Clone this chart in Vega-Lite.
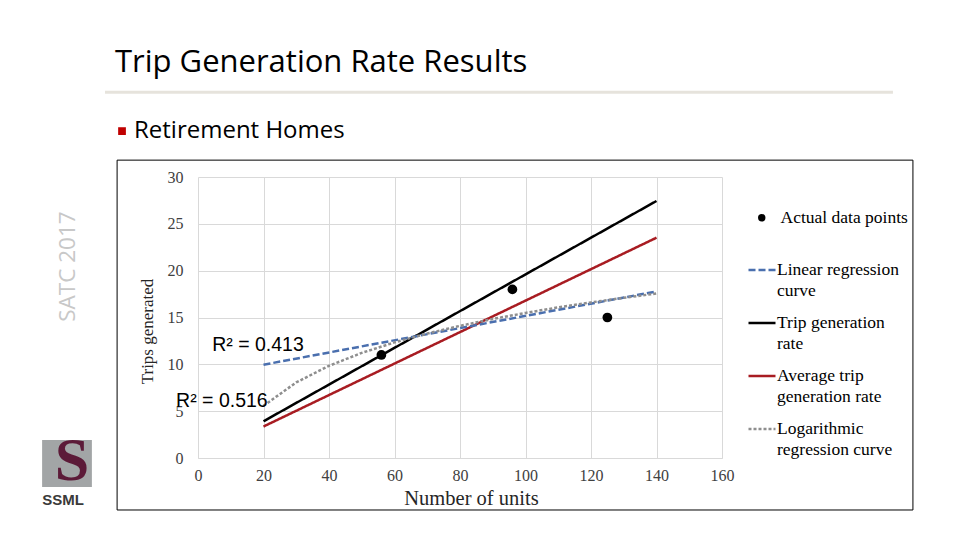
{
  "$schema": "https://vega.github.io/schema/vega-lite/v6.json",
  "width": 524,
  "height": 281,
  "autosize": {"type": "none"},
  "padding": {"left": 198, "top": 177, "right": 238, "bottom": 82},
  "background": "white",
  "config": {"view": {"stroke": null}},
  "title": {
    "text": "Trip Generation Rate Results",
    "anchor": "start",
    "frame": "group",
    "orient": "top",
    "offset": 0,
    "dx": -83,
    "dy": -12,
    "font": "Open Sans",
    "fontSize": 31,
    "fontWeight": "normal",
    "color": "#000000"
  },
  "datasets": {
    "points": [
      {"units": 56, "trips": 11},
      {"units": 96, "trips": 18},
      {"units": 125, "trips": 15}
    ],
    "lines": [
      {"series": "Trip generation rate", "units": 20, "trips": 3.92},
      {"series": "Trip generation rate", "units": 140, "trips": 27.44},
      {"series": "Average trip generation rate", "units": 20, "trips": 3.36},
      {"series": "Average trip generation rate", "units": 140, "trips": 23.52},
      {"series": "Linear regression curve", "units": 20, "trips": 9.96},
      {"series": "Linear regression curve", "units": 140, "trips": 17.78},
      {"series": "Logarithmic regression curve", "units": 20, "trips": 5.57},
      {"series": "Logarithmic regression curve", "units": 30, "trips": 8.07},
      {"series": "Logarithmic regression curve", "units": 40, "trips": 9.84},
      {"series": "Logarithmic regression curve", "units": 50, "trips": 11.22},
      {"series": "Logarithmic regression curve", "units": 60, "trips": 12.34},
      {"series": "Logarithmic regression curve", "units": 70, "trips": 13.29},
      {"series": "Logarithmic regression curve", "units": 80, "trips": 14.11},
      {"series": "Logarithmic regression curve", "units": 90, "trips": 14.84},
      {"series": "Logarithmic regression curve", "units": 100, "trips": 15.49},
      {"series": "Logarithmic regression curve", "units": 110, "trips": 16.08},
      {"series": "Logarithmic regression curve", "units": 120, "trips": 16.61},
      {"series": "Logarithmic regression curve", "units": 130, "trips": 17.10},
      {"series": "Logarithmic regression curve", "units": 140, "trips": 17.56}
    ]
  },
  "layer": [
    {
      "data": {"values": [{}]},
      "mark": {"type": "rect", "fill": null, "filled": false, "stroke": "#000000", "strokeWidth": 1, "clip": false},
      "encoding": {
        "x": {"datum": -24.7, "type": "quantitative", "axis": null},
        "x2": {"datum": 218.3},
        "y": {"datum": 31.8, "type": "quantitative", "axis": null},
        "y2": {"datum": -5.55}
      }
    },
    {
      "data": {"values": [{}]},
      "mark": {"type": "rule", "stroke": "#e6e3dc", "strokeWidth": 3, "clip": false},
      "encoding": {
        "x": {"datum": -28.4, "type": "quantitative", "axis": null},
        "x2": {"datum": 212.2},
        "y": {"datum": 39.06, "type": "quantitative", "axis": null}
      }
    },
    {
      "data": {"name": "lines"},
      "mark": {"type": "line", "strokeWidth": 2.5, "clip": false},
      "encoding": {
        "x": {
          "field": "units", "type": "quantitative",
          "scale": {"domain": [0, 160], "nice": false, "zero": false},
          "axis": {
            "values": [0, 20, 40, 60, 80, 100, 120, 140, 160],
            "grid": true, "gridColor": "#d9d9d9", "gridWidth": 1,
            "domain": true, "domainColor": "#d9d9d9", "domainWidth": 1,
            "ticks": false, "labelFlush": false,
            "labelFont": "Liberation Serif", "labelFontSize": 16, "labelColor": "#404040", "labelPadding": 9,
            "title": "Number of units", "titleFont": "Liberation Serif", "titleFontSize": 20.5,
            "titleFontWeight": "normal", "titleColor": "#262626", "titleX": 273, "titlePadding": 5
          }
        },
        "y": {
          "field": "trips", "type": "quantitative",
          "scale": {"domain": [0, 30], "nice": false, "zero": true},
          "axis": {
            "orient": "left",
            "values": [0, 5, 10, 15, 20, 25, 30],
            "grid": true, "gridColor": "#d9d9d9", "gridWidth": 1,
            "domain": false, "ticks": false, "labelFlush": false,
            "labelFont": "Liberation Serif", "labelFontSize": 16, "labelColor": "#404040", "labelPadding": 15,
            "title": "Trips generated", "titleFont": "Liberation Serif", "titleFontSize": 17,
            "titleFontWeight": "normal", "titleColor": "#262626",
            "titleAngle": -90, "titleAlign": "center", "titleBaseline": "middle",
            "titleX": -51, "titleY": 154
          }
        },
        "color": {
          "field": "series", "type": "nominal",
          "scale": {
            "domain": ["Linear regression curve", "Trip generation rate", "Average trip generation rate", "Logarithmic regression curve"],
            "range": ["#4a6fae", "#000000", "#a81c22", "#8e8e8e"]
          },
          "legend": {
            "orient": "none", "legendX": 549, "legendY": 78, "title": null,
            "symbolType": "stroke", "symbolSize": 729, "symbolStrokeWidth": 2.5,
            "labelFont": "Liberation Serif", "labelFontSize": 17.5, "labelColor": "#000000",
            "labelOffset": 0, "labelBaseline": "top", "labelLimit": 300, "rowPadding": 8,
            "labelExpr": "datum.label == 'Linear regression curve' ? ['Linear regression', 'curve'] : datum.label == 'Trip generation rate' ? ['Trip generation', 'rate'] : datum.label == 'Average trip generation rate' ? ['Average trip', 'generation rate'] : ['Logarithmic', 'regression curve']",
            "encode": {"labels": {"update": {"dy": {"value": -9}, "lineHeight": {"value": 21}}}}
          }
        },
        "strokeDash": {
          "field": "series", "type": "nominal",
          "scale": {
            "domain": ["Linear regression curve", "Trip generation rate", "Average trip generation rate", "Logarithmic regression curve"],
            "range": [[7, 3], [1, 0], [1, 0], [3, 2]]
          },
          "legend": {
            "orient": "none", "legendX": 549, "legendY": 78, "title": null,
            "symbolType": "stroke", "symbolSize": 729, "symbolStrokeWidth": 2.5,
            "labelFont": "Liberation Serif", "labelFontSize": 17.5, "labelColor": "#000000",
            "labelOffset": 0, "labelBaseline": "top", "labelLimit": 300, "rowPadding": 8,
            "labelExpr": "datum.label == 'Linear regression curve' ? ['Linear regression', 'curve'] : datum.label == 'Trip generation rate' ? ['Trip generation', 'rate'] : datum.label == 'Average trip generation rate' ? ['Average trip', 'generation rate'] : ['Logarithmic', 'regression curve']",
            "encode": {"labels": {"update": {"dy": {"value": -9}, "lineHeight": {"value": 21}}}}
          }
        }
      }
    },
    {
      "data": {"name": "points"},
      "mark": {"type": "point", "filled": true, "size": 95, "color": "#000000", "opacity": 1, "clip": false},
      "encoding": {
        "x": {"field": "units", "type": "quantitative", "axis": null},
        "y": {
          "field": "trips", "type": "quantitative",
          "axis": {
            "orient": "left", "labels": false, "ticks": false, "domain": false, "grid": false,
            "title": "SATC 2017", "titleFont": "Open Sans", "titleFontSize": 22.5, "titleFontWeight": "normal",
            "titleColor": "#c8c8c8", "titleAngle": -90, "titleAlign": "center", "titleBaseline": "middle",
            "titleX": -131, "titleY": 89
          }
        },
        "shape": {
          "datum": "Actual data points",
          "scale": {"range": ["circle"]},
          "legend": {
            "orient": "none", "legendX": 555, "legendY": 32, "title": null,
            "symbolFillColor": "#000000", "symbolStrokeColor": "#000000", "symbolSize": 55,
            "labelFont": "Liberation Serif", "labelFontSize": 17.5, "labelColor": "#000000", "labelOffset": 10
          }
        }
      }
    },
    {
      "data": {"values": [{}]},
      "mark": {"type": "text", "font": "Liberation Sans", "fontSize": 19.5, "color": "#000000", "align": "center", "baseline": "middle", "clip": false},
      "encoding": {
        "x": {"datum": 18.3, "type": "quantitative", "axis": null},
        "y": {"datum": 12.06, "type": "quantitative", "axis": null},
        "text": {"value": "R² = 0.413"}
      }
    },
    {
      "data": {"values": [{}]},
      "mark": {"type": "text", "font": "Liberation Sans", "fontSize": 19.5, "color": "#000000", "align": "center", "baseline": "middle", "clip": false},
      "encoding": {
        "x": {"datum": 7.3, "type": "quantitative", "axis": null},
        "y": {"datum": 6.08, "type": "quantitative", "axis": null},
        "text": {"value": "R² = 0.516"}
      }
    },
    {
      "data": {"values": [{}]},
      "mark": {"type": "text", "font": "Open Sans", "fontSize": 24, "color": "#000000", "align": "left", "baseline": "middle", "clip": false},
      "encoding": {
        "x": {"datum": -19.54, "type": "quantitative", "axis": null},
        "y": {"datum": 34.9, "type": "quantitative", "axis": null},
        "text": {"value": "Retirement Homes"}
      }
    },
    {
      "data": {"values": [{}]},
      "mark": {"type": "point", "shape": "square", "filled": true, "size": 60, "color": "#c00000", "opacity": 1, "clip": false},
      "encoding": {
        "x": {"datum": -23.2, "type": "quantitative", "axis": null},
        "y": {"datum": 34.9, "type": "quantitative", "axis": null}
      }
    },
    {
      "data": {"values": [{}]},
      "mark": {"type": "rect", "fill": "#a2a5a6", "clip": false},
      "encoding": {
        "x": {"datum": -47.6, "type": "quantitative", "axis": null},
        "x2": {"datum": -32.4},
        "y": {"datum": 1.92, "type": "quantitative", "axis": null},
        "y2": {"datum": -3.09}
      }
    },
    {
      "data": {"values": [{}]},
      "mark": {"type": "text", "font": "Liberation Serif", "fontSize": 62, "fontWeight": "bold", "color": "#5c1a38", "align": "center", "baseline": "middle", "clip": false},
      "encoding": {
        "x": {"datum": -38.5, "type": "quantitative", "axis": null},
        "y": {"datum": -0.3, "type": "quantitative", "axis": null},
        "text": {"value": "S"}
      }
    },
    {
      "data": {"values": [{}]},
      "mark": {"type": "text", "font": "Liberation Sans", "fontSize": 15, "fontWeight": "bold", "color": "#3a3a3a", "align": "center", "baseline": "middle", "clip": false},
      "encoding": {
        "x": {"datum": -41.2, "type": "quantitative", "axis": null},
        "y": {"datum": -4.48, "type": "quantitative", "axis": null},
        "text": {"value": "SSML"}
      }
    }
  ],
  "resolve": {"axis": {"x": "independent", "y": "independent"}}
}
